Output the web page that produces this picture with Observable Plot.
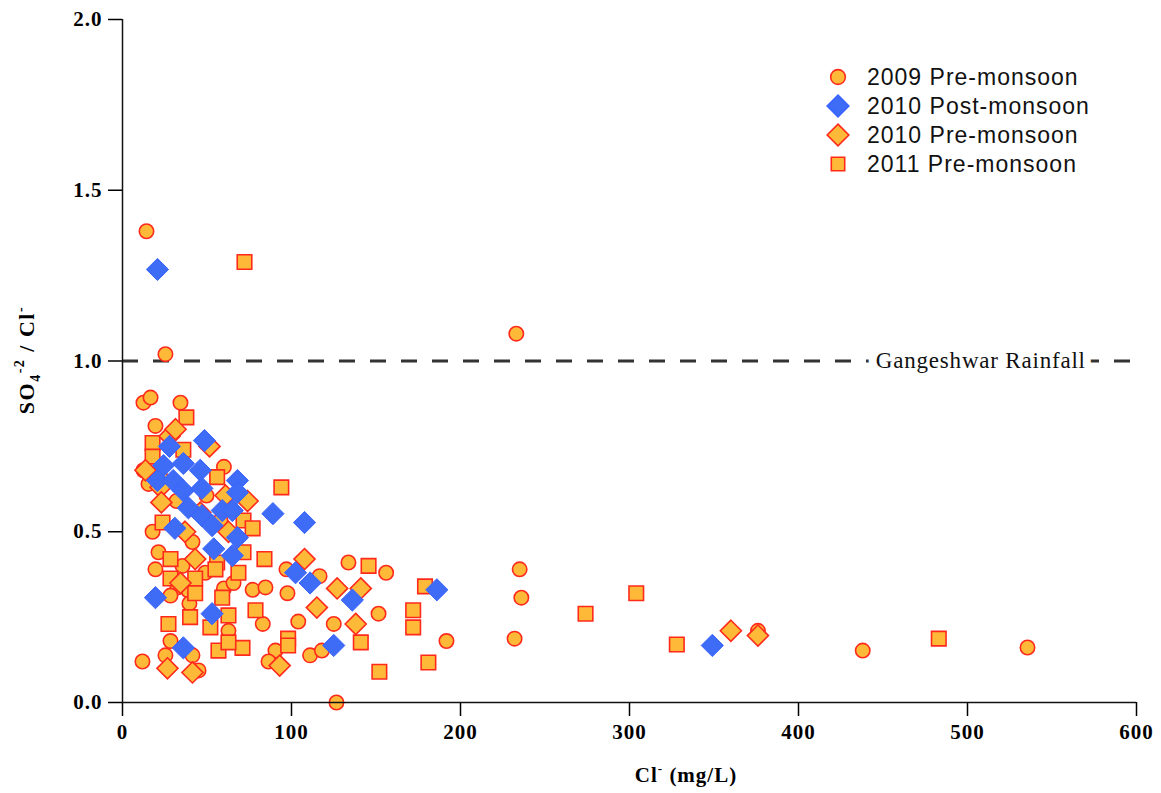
<!DOCTYPE html>
<html>
<head>
<meta charset="utf-8">
<script src="https://cdn.jsdelivr.net/npm/d3@7"></script>
<script src="https://cdn.jsdelivr.net/npm/@observablehq/plot@0.6"></script>
<style>
  html, body { margin: 0; padding: 0; background: #fff; }
  #chart { position: relative; width: 1161px; height: 793px; }
</style>
</head>
<body>
<div id="chart"></div>
<script>
// ---- Data ----
const seriesNames = ["2009 Pre-monsoon", "2010 Post-monsoon", "2010 Pre-monsoon", "2011 Pre-monsoon"];

// 2009 Pre-monsoon (circles): [Cl (mg/L), SO4/Cl]
const pre2009 = [
  [14.2,1.38],[25.4,1.02],[233,1.08],[12.4,0.878],[16.6,0.893],[34.3,0.878],[19.5,0.81],
  [60,0.69],[12.4,0.68],[22.5,0.66],[15.4,0.64],[49.7,0.606],[32,0.59],[58,0.533],
  [17.8,0.50],[41.4,0.47],[21.3,0.44],[19.5,0.39],[35.5,0.40],[49,0.38],[60,0.334],
  [32.5,0.337],[39,0.328],[28.4,0.313],[39.6,0.29],[62.7,0.21],[41.4,0.138],[45,0.094],
  [25.4,0.138],[11.8,0.12],[65.7,0.35],[77,0.33],[84.6,0.337],[97.6,0.32],[97,0.39],
  [116.6,0.37],[133.7,0.41],[156,0.38],[83,0.23],[104,0.237],[125,0.23],[151.5,0.26],
  [90.5,0.152],[86.4,0.12],[111,0.138],[118,0.152],[126.6,0.0],[235,0.39],[236,0.307],
  [232,0.187],[191.7,0.18],[376,0.21],[438,0.152],[535.5,0.161],[28.4,0.18]
];

// 2010 Post-monsoon (blue diamonds)
const post2010 = [
  [20.7,1.268],[27.8,0.75],[48.5,0.767],[24.3,0.694],[36,0.70],[20.7,0.65],[30,0.65],
  [46,0.68],[36,0.62],[47,0.627],[68,0.65],[68,0.615],[39,0.57],[47,0.547],[53,0.518],
  [59,0.562],[65,0.562],[31,0.51],[68,0.483],[54,0.45],[65,0.43],[19.5,0.307],[36,0.16],
  [53,0.26],[89,0.553],[107.7,0.527],[102.4,0.38],[111,0.35],[136,0.30],[125,0.167],
  [186,0.33],[349,0.167]
];

// 2010 Pre-monsoon (orange diamonds)
const pre2010 = [
  [13.6,0.68],[27.8,0.78],[31.4,0.80],[51.5,0.75],[74,0.59],[61,0.606],[43,0.42],
  [34.3,0.35],[26.6,0.10],[41.4,0.088],[107.7,0.42],[127,0.334],[141,0.334],[115,0.278],
  [138,0.23],[93,0.108],[360,0.21],[376,0.196],[22.5,0.63],[37,0.50],[62.7,0.50],
  [46,0.556],[23,0.586]
];

// 2011 Pre-monsoon (squares)
const pre2011 = [
  [72.2,1.29],[37.8,0.835],[17.8,0.76],[17.8,0.72],[36,0.74],[56,0.66],[23.7,0.527],
  [71.6,0.533],[77,0.51],[28.4,0.42],[56,0.41],[28.4,0.363],[43,0.363],[68.6,0.38],
  [55,0.39],[94,0.63],[84,0.42],[145.6,0.40],[71.6,0.44],[27.2,0.23],[40,0.25],[43,0.32],
  [59,0.307],[62.7,0.255],[52,0.22],[56.8,0.152],[71,0.16],[62.7,0.176],[78.7,0.27],
  [98,0.187],[98,0.167],[141,0.176],[152,0.09],[179,0.34],[172,0.27],[172,0.22],
  [181,0.117],[274,0.26],[304,0.32],[328,0.17],[483,0.187]
];

const xTicks = [0, 100, 200, 300, 400, 500, 600];
const yTicks = [0, 0.5, 1.0, 1.5, 2.0];
const rainfallRatio = [1.0];
const rainfallLabel = [{x: 570, y: 1.0, text: "Gangeshwar Rainfall"}];

// ---- Styles ----
const orangeFill = "#ffb938", orangeStroke = "#ff2a1c";
const blueFill = "#3f6cf6", blueStroke = "#3a64ff";
const toObj = a => a.map(([x, y]) => ({x, y}));

const plot = Plot.plot({
  width: 1161, height: 793,
  marginLeft: 122, marginRight: 25, marginTop: 19, marginBottom: 91,
  style: {fontFamily: "'Liberation Serif', 'Times New Roman', serif", fontSize: "21px", fontWeight: "bold", color: "#000", background: "#fff"},
  x: {domain: [0, 600], label: null},
  y: {domain: [0, 2], label: null},
  marks: [
    Plot.ruleY(rainfallRatio, {stroke: "#333", strokeWidth: 3, strokeDasharray: "16,15"}),
    Plot.text(rainfallLabel, {x: "x", y: "y", text: "text", textAnchor: "end", fontWeight: "normal", fontSize: 23,
      stroke: "white", strokeWidth: 16, fill: "#111", lineAnchor: "middle"}),
    Plot.dot(toObj(pre2009), {x: "x", y: "y", symbol: "circle", r: 7.2, fill: orangeFill, stroke: orangeStroke, strokeWidth: 1.6}),
    Plot.dot(toObj(pre2011), {x: "x", y: "y", symbol: "square", r: 8.2, fill: orangeFill, stroke: orangeStroke, strokeWidth: 1.6}),
    Plot.dot(toObj(pre2010), {x: "x", y: "y", symbol: "diamond2", r: 9.5, fill: orangeFill, stroke: orangeStroke, strokeWidth: 1.6}),
    Plot.dot(toObj(post2010), {x: "x", y: "y", symbol: "diamond2", r: 10, fill: blueFill, stroke: blueStroke, strokeWidth: 1}),
    Plot.axisX({ticks: xTicks, tickSize: 14, tickPadding: 8, strokeWidth: 1.5, tickFormat: d => d, label: null}),
    Plot.axisY({ticks: yTicks, tickSize: 14, tickPadding: 6, strokeWidth: 1.5, tickFormat: d3.format(".1f"), label: null}),
    Plot.ruleX([0], {stroke: "#111", strokeWidth: 1.5}),
    Plot.ruleY([0], {stroke: "#111", strokeWidth: 1.5})
  ]
});

document.getElementById("chart").appendChild(plot);
const svg = d3.select(plot);
svg.selectAll("[aria-label='x-axis tick label'] text, [aria-label='y-axis tick label'] text").style("letter-spacing", "1px");
svg.selectAll("[aria-label='text'] text").style("letter-spacing", "0.8px");

// Axis titles with sub/superscripts
const xt = svg.append("text")
  .attr("x", 686).attr("y", 782).attr("text-anchor", "middle")
  .style("font-family", "'Liberation Serif', serif").style("font-size", "21px").style("font-weight", "bold")
  .style("letter-spacing", "1px");
xt.append("tspan").text("Cl");
xt.append("tspan").attr("dy", -9).style("font-size", "13px").text("-");
xt.append("tspan").attr("dy", 9).text(" (mg/L)");

const yt = svg.append("text")
  .attr("transform", "translate(34,360) rotate(-90)").attr("text-anchor", "middle")
  .style("font-family", "'Liberation Serif', serif").style("font-size", "22px").style("font-weight", "bold")
  .style("letter-spacing", "1.5px");
yt.append("tspan").text("SO");
yt.append("tspan").attr("dy", 6).style("font-size", "14px").text("4");
yt.append("tspan").attr("dy", -16).style("font-size", "14px").text("-2");
yt.append("tspan").attr("dy", 10).text(" / Cl");
yt.append("tspan").attr("dy", -9).style("font-size", "14px").text("-");

// Legend
const legend = svg.append("g");
const legendStyles = [
  {type: d3.symbolCircle, size: 170, fill: orangeFill, stroke: orangeStroke},
  {type: d3.symbolDiamond2, size: 300, fill: blueFill, stroke: blueStroke},
  {type: d3.symbolDiamond2, size: 300, fill: orangeFill, stroke: orangeStroke},
  {type: d3.symbolSquare, size: 180, fill: orangeFill, stroke: orangeStroke}
];
seriesNames.forEach((name, i) => {
  const y = 77 + i * 29;
  const s = legendStyles[i];
  legend.append("path")
    .attr("d", d3.symbol(s.type, s.size)())
    .attr("transform", `translate(838,${y})`)
    .attr("fill", s.fill).attr("stroke", s.stroke).attr("stroke-width", 1.6);
  legend.append("text")
    .attr("x", 867).attr("y", y).attr("dy", "0.36em")
    .attr("text-anchor", "start")
    .style("font-family", "'Liberation Sans', Arial, sans-serif").style("font-size", "23px")
    .style("font-weight", "normal")
    .style("letter-spacing", "1px").attr("fill", "#111")
    .text(name);
});
</script>
</body>
</html>
